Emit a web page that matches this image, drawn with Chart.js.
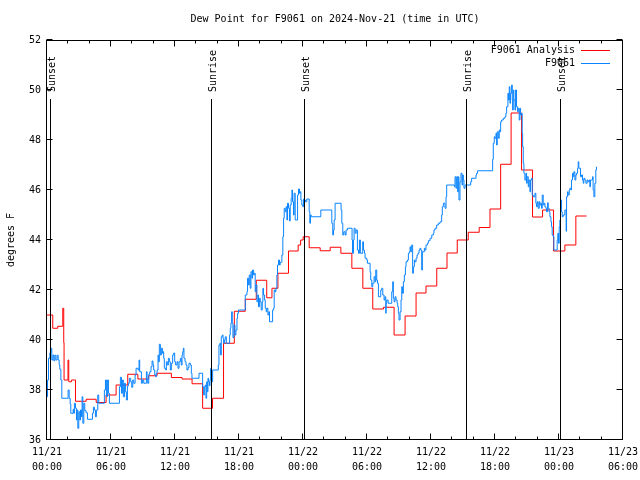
<!DOCTYPE html>
<html>
<head>
<meta charset="utf-8">
<title>Dew Point for F9061</title>
<script src="https://cdn.jsdelivr.net/npm/chart.js@4.4.1/dist/chart.umd.min.js"></script>
<style>
  html, body { margin: 0; padding: 0; background: #fff; }
</style>
</head>
<body>
<canvas id="dewChart" width="640" height="480"></canvas>
<script>
// ——— Dew point, station F9061, 2024-11-21 00:00 UTC onwards (x = hours since start) ———
const TITLE = "Dew Point for F9061 on 2024-Nov-21 (time in UTC)";
const Y_LABEL = "degrees F";

const X_TICK_DAY = ["11/21", "11/21", "11/21", "11/21", "11/22", "11/22", "11/22", "11/22", "11/23", "11/23"];
const X_TICK_TIME = ["00:00", "06:00", "12:00", "18:00", "00:00", "06:00", "12:00", "18:00", "00:00", "06:00"];

// sun events: hour of the line, label
const EVENT_HOURS = [0.39, 15.47, 24.23, 39.42, 48.2];
const EVENT_NAMES = ["Sunset", "Sunrise", "Sunset", "Sunrise", "Sunset"];

// hourly analysis, [hour, °F] (value holds until the next step)
const F9061_ANALYSIS = [
  [0, 41.0], [0.54, 40.47], [1.01, 40.55], [1.48, 41.27], [1.57, 39.9], [1.6, 38.4], [1.97, 39.2], [2.04, 38.33],
  [2.29, 38.4], [2.67, 37.55], [3.67, 37.63], [4.61, 37.5], [5.54, 37.8], [6.48, 38.2], [7.57, 38.63], [8.52, 38.44],
  [9.53, 38.57], [10.32, 38.67], [11.66, 38.5], [12.66, 38.44], [13.6, 38.25], [14.59, 37.27], [15.52, 37.67],
  [16.55, 39.87], [17.56, 41.15], [18.59, 41.63], [19.62, 42.39], [20.6, 41.69], [21.09, 42.07], [21.65, 42.67],
  [22.64, 43.56], [23.55, 43.8], [23.78, 44.0], [24.02, 44.13], [24.58, 43.69], [25.61, 43.57], [26.55, 43.71],
  [27.55, 43.47], [28.58, 42.87], [29.61, 42.07], [30.54, 41.24], [31.54, 41.31], [32.54, 40.2], [33.57, 40.96],
  [34.6, 41.88], [35.53, 42.16], [36.54, 42.87], [37.5, 43.48], [38.46, 44.0], [39.49, 44.31], [40.52, 44.5],
  [41.53, 45.24], [42.53, 47.03], [43.51, 49.08], [44.49, 46.8], [45.52, 44.92], [46.46, 45.2], [47.49, 43.56],
  [48.55, 43.8], [49.58, 44.96], [50.58, 44.96]
];

// station observations, [hour, °F]
const F9061_OBS = [
  [0.01, 37.73], [0.05, 38.4], [0.14, 39.27], [0.27, 39.49], [0.36, 39.67], [0.45, 39.2], [0.55, 39.4], [0.64, 39.17],
  [0.73, 39.39], [0.83, 39.2], [0.95, 39.39], [1.05, 39.2], [1.14, 39.0], [1.2, 38.83], [1.3, 38.4], [1.39, 37.67],
  [1.98, 38.0], [2.08, 37.67], [2.17, 37.44], [2.23, 37.07], [2.45, 37.23], [2.51, 37.07], [2.57, 37.47], [2.67, 37.27],
  [2.76, 36.8], [2.82, 37.2], [2.89, 36.47], [2.98, 37.13], [3.07, 36.8], [3.14, 37.2], [3.23, 36.93], [3.29, 37.73],
  [3.36, 36.67], [3.45, 37.47], [3.54, 37.17], [3.67, 37.09], [3.79, 36.83], [4.26, 37.07], [4.35, 37.31], [4.45, 37.2],
  [4.54, 36.93], [4.63, 37.2], [4.76, 37.8], [4.85, 37.47], [5.38, 38.0], [5.48, 38.4], [5.57, 37.73], [5.66, 38.4],
  [5.76, 37.87], [5.85, 37.47], [6.79, 38.13], [6.88, 38.51], [6.98, 37.87], [7.07, 38.4], [7.16, 37.73], [7.26, 38.27],
  [7.35, 37.93], [7.44, 37.6], [7.54, 38.16], [7.63, 38.27], [7.72, 38.47], [7.85, 38.33], [7.94, 38.11], [8.04, 38.4],
  [8.13, 38.27], [8.26, 38.6], [8.35, 38.87], [8.54, 38.8], [8.63, 39.2], [8.69, 38.73],
  [8.85, 38.27], [8.94, 38.4], [9.07, 38.27], [9.32, 38.73], [9.38, 38.44], [9.44, 38.27], [9.54, 38.63], [9.63, 38.73],
  [9.75, 38.93], [9.85, 39.16], [9.94, 39.0], [10.0, 38.8], [10.1, 38.6], [10.19, 38.53], [10.25, 38.67], [10.32, 38.8],
  [10.41, 39.4], [10.47, 39.13], [10.53, 39.83], [10.63, 39.4], [10.72, 39.67], [10.82, 39.47], [10.88, 39.53],
  [10.94, 39.27], [11.0, 38.87], [11.13, 38.8], [11.19, 39.13], [11.28, 39.0], [11.38, 39.27], [11.47, 39.13],
  [11.56, 38.8], [11.66, 39.07], [11.78, 39.4], [11.88, 39.48], [11.97, 39.13], [12.06, 39.0], [12.19, 39.13],
  [12.28, 38.87], [12.38, 39.13], [12.5, 39.27], [12.59, 39.0], [12.66, 39.4], [12.72, 39.53], [12.78, 39.67],
  [12.84, 39.27], [12.94, 39.13], [13.03, 39.0], [13.12, 38.8], [13.22, 38.89], [13.31, 39.07], [13.44, 39.0],
  [13.53, 38.67], [13.59, 38.47], [14.25, 38.67], [14.59, 38.13], [14.69, 37.8], [14.75, 38.13], [14.84, 38.2],
  [14.9, 37.67], [14.97, 38.33], [15.03, 37.93], [15.09, 38.47], [15.15, 38.33], [15.22, 38.17], [15.28, 38.4],
  [15.34, 38.87], [15.43, 38.33], [15.53, 38.8], [16.06, 39.0], [16.12, 39.8], [16.21, 39.87], [16.28, 39.4],
  [16.34, 40.13], [16.43, 40.2], [16.5, 40.07], [16.56, 39.87], [16.65, 40.0], [16.71, 40.13], [16.81, 39.87],
  [17.12, 40.2], [17.18, 40.47], [17.24, 40.67], [17.31, 41.13], [17.37, 40.67], [17.43, 40.1], [17.53, 40.6],
  [17.62, 40.2], [17.71, 40.4], [17.81, 40.87], [17.87, 41.07], [17.96, 41.2],
  [18.59, 41.8], [18.74, 41.93], [18.8, 42.47], [18.9, 42.2], [18.96, 42.6], [19.05, 42.07], [19.12, 42.73],
  [19.21, 42.47], [19.27, 42.8], [19.37, 42.6], [19.43, 42.67], [19.52, 41.93], [19.58, 42.2], [19.68, 41.53],
  [19.77, 41.8], [19.83, 41.33], [19.93, 41.67], [19.99, 41.53], [20.08, 41.2], [20.18, 41.53], [20.24, 42.07],
  [20.3, 41.8], [20.4, 41.6], [20.46, 41.27], [20.55, 41.13], [20.61, 41.27], [20.71, 41.0], [20.8, 41.13],
  [20.86, 40.73], [21.15, 41.2], [21.24, 41.27], [21.3, 42.0], [21.39, 41.93], [21.46, 42.07], [21.55, 42.6],
  [21.61, 43.0], [21.71, 43.2], [21.8, 43.0], [21.86, 43.11], [22.02, 43.4], [22.11, 44.13], [22.18, 44.87],
  [22.24, 45.27], [22.33, 45.13], [22.42, 45.33], [22.49, 44.8], [22.55, 45.47], [22.64, 45.27], [22.74, 44.76],
  [22.8, 45.4], [22.89, 45.67], [22.96, 46.0], [23.02, 45.53], [23.11, 45.0], [23.17, 45.87], [23.27, 44.8],
  [23.49, 45.8], [23.58, 46.04], [23.67, 45.87], [23.74, 45.93], [23.8, 45.6], [23.89, 45.4], [23.99, 45.33],
  [24.05, 45.64], [24.14, 45.6], [24.23, 45.53], [24.36, 45.64], [24.58, 45.13], [24.64, 44.67], [24.7, 45.0],
  [24.77, 44.93], [25.67, 45.2],
  [26.7, 44.67], [26.79, 44.2], [26.86, 44.4], [26.92, 44.8], [27.01, 45.47], [27.57, 45.2], [27.64, 44.67],
  [27.73, 44.2], [27.82, 44.33], [27.95, 44.2], [28.04, 44.4], [28.17, 44.47], [28.6, 44.0], [28.64, 43.47],
  [28.73, 44.0], [28.79, 44.47], [28.89, 44.27], [28.98, 44.4], [29.1, 43.6], [29.2, 43.47], [29.29, 44.0],
  [29.38, 43.47], [29.6, 43.93], [29.67, 43.6], [29.76, 43.47], [29.82, 43.27], [29.98, 43.2], [30.04, 43.07],
  [30.29, 42.73], [30.35, 42.4], [30.45, 42.13], [30.54, 42.27], [30.66, 42.53], [30.76, 42.33], [30.82, 42.8],
  [30.91, 42.4], [30.98, 42.27], [31.07, 41.73], [31.29, 42.0], [31.38, 42.07], [31.48, 41.8], [31.6, 41.6],
  [31.69, 41.73], [31.76, 41.07], [31.79, 41.47], [31.85, 41.6], [31.98, 41.47], [32.32, 41.93], [32.41, 42.33],
  [32.47, 41.67], [32.54, 41.53], [32.63, 41.73], [32.72, 41.6], [32.82, 41.47], [32.88, 41.33], [32.94, 41.07],
  [33.0, 40.8], [33.1, 41.13], [33.19, 41.6], [33.26, 42.13], [33.32, 41.87], [33.41, 42.33], [33.5, 42.6],
  [33.6, 42.93], [33.66, 43.13], [33.79, 43.2], [33.88, 43.47], [33.97, 43.53], [34.04, 43.73], [34.1, 43.53],
  [34.19, 43.8], [34.28, 42.67], [34.35, 42.93], [34.44, 43.2], [34.5, 43.13], [34.6, 43.27], [34.69, 43.4],
  [34.78, 43.47], [34.88, 43.6], [34.97, 43.67],
  [35.04, 43.6], [35.13, 42.8], [35.19, 43.53], [35.38, 43.67], [35.44, 43.6], [35.53, 43.8], [35.66, 43.87],
  [35.75, 43.97], [35.91, 44.07], [36.07, 44.2], [36.22, 44.27], [36.28, 44.4], [36.38, 44.47], [36.53, 44.6],
  [36.69, 44.67], [36.85, 44.73], [37.0, 45.0], [37.06, 45.33], [37.16, 45.47], [37.31, 45.27], [37.41, 45.73],
  [37.47, 46.2], [38.19, 46.13], [38.25, 46.53], [38.34, 46.07], [38.41, 46.53], [38.5, 45.93], [38.56, 46.53],
  [38.62, 45.6], [38.72, 46.33], [38.81, 46.67], [38.91, 46.2], [38.97, 46.6], [39.03, 46.4], [39.09, 46.07],
  [39.19, 46.2], [39.72, 46.33], [39.81, 46.47], [40.22, 46.6], [40.28, 46.67], [40.37, 46.77], [41.78, 47.23],
  [41.84, 47.87], [41.93, 48.13], [42.0, 48.07], [42.09, 48.27], [42.15, 47.8], [42.21, 48.33], [42.31, 48.07],
  [42.4, 48.4], [42.46, 48.33], [42.53, 48.73], [42.62, 48.8], [42.78, 48.87], [42.93, 48.93], [43.02, 49.07],
  [43.09, 49.33],
  [43.21, 49.87], [43.27, 49.6], [43.34, 50.13], [43.4, 49.47], [43.46, 49.87], [43.56, 50.2], [43.62, 49.6],
  [43.65, 49.2], [43.71, 50.0], [43.77, 49.6], [43.87, 49.2], [43.93, 50.0], [44.02, 49.33], [44.12, 49.13],
  [44.18, 49.27], [44.27, 48.8], [44.34, 49.27], [44.4, 49.0], [44.49, 49.07], [44.55, 48.27], [44.59, 47.73],
  [44.65, 47.07], [44.71, 46.67], [44.8, 46.4], [44.9, 46.67], [44.96, 46.27], [45.02, 46.53], [45.12, 46.13],
  [45.18, 46.4], [45.27, 45.93], [45.33, 46.4], [45.43, 46.47], [45.49, 45.8], [45.58, 45.73], [45.74, 45.87],
  [45.83, 45.47], [45.9, 45.33], [45.96, 45.53], [46.05, 45.27], [46.15, 45.53], [46.21, 45.4], [46.3, 45.47],
  [46.36, 45.27], [46.43, 45.8], [46.52, 45.4], [46.61, 45.47], [46.68, 45.33], [46.77, 45.27], [46.83, 45.13],
  [46.93, 45.49], [46.99, 45.27], [47.08, 45.13], [47.15, 44.93], [47.24, 44.73], [47.3, 44.53], [47.36, 44.2],
  [47.46, 44.13], [47.52, 43.6], [47.83, 44.0], [47.89, 44.27], [47.96, 43.87], [48.02, 44.53], [48.08, 44.8],
  [48.14, 45.6], [48.24, 45.13], [48.3, 44.93], [48.39, 45.0], [48.55, 45.2], [48.67, 44.35], [48.71, 45.73],
  [48.8, 45.93], [48.86, 45.8], [48.96, 46.0], [49.02, 46.07], [49.11, 46.0], [49.17, 46.4], [49.27, 46.67],
  [49.33, 46.53], [49.39, 46.73], [49.49, 46.4], [49.58, 46.6], [49.64, 46.67], [49.74, 46.87], [49.8, 47.13],
  [49.86, 46.87], [50.02, 46.53], [50.11, 46.6], [50.2, 46.4], [50.27, 46.27], [50.33, 46.47], [50.42, 46.4],
  [50.52, 46.27], [50.64, 46.4], [50.73, 46.33], [50.83, 46.4], [50.89, 46.13], [50.95, 46.4], [51.14, 46.53],
  [51.2, 46.0], [51.27, 45.73], [51.36, 46.27], [51.45, 46.8], [51.51, 46.93]
];

const FONT_FAMILY = '"DejaVu Sans Mono", "Liberation Mono", monospace';
const RED = "#ff0000";
const BLUE = "#0a84ff";
const MINOR_STEP_H = 2;

Chart.defaults.font.family = FONT_FAMILY;
Chart.defaults.font.size = 10;
Chart.defaults.color = "#000";

const toPoints = (rows) => rows.map(([x, y]) => ({ x, y }));

// gnuplot-ish frame, inward ticks, sun lines, legend and title
const gnuplotDecor = {
  id: "gnuplotDecor",
  beforeDraw(chart) {
    const { ctx, width, height } = chart;
    ctx.save();
    ctx.fillStyle = "#fff";
    ctx.fillRect(0, 0, width, height);
    ctx.restore();
  },
  afterDatasetsDraw(chart) {
    const { ctx, chartArea: a, scales: { x, y } } = chart;
    const L = Math.round(a.left) - 0.5;
    const R = Math.round(a.right) - 0.5;
    const T = Math.round(a.top) + 0.5;
    const B = Math.round(a.bottom) - 0.5;

    ctx.save();
    ctx.strokeStyle = "#000";
    ctx.lineWidth = 1;

    // sun event lines + labels
    ctx.fillStyle = "#000";
    ctx.font = "10px " + FONT_FAMILY;
    EVENT_HOURS.forEach((h, i) => {
      const px = Math.round(x.getPixelForValue(h)) - 0.5;
      ctx.beginPath();
      ctx.moveTo(px, 99);
      ctx.lineTo(px, B);
      ctx.stroke();
      ctx.save();
      ctx.translate(px + 1.5, 92);
      ctx.rotate(-Math.PI / 2);
      ctx.textAlign = "left";
      ctx.textBaseline = "middle";
      ctx.fillText(EVENT_NAMES[i], 0, 0);
      ctx.restore();
    });

    // frame
    ctx.strokeRect(L, T, R - L, B - T);

    // ticks (inward, mirrored)
    const majors = new Set(x.ticks.map((t) => t.value));
    ctx.beginPath();
    for (let h = x.min; h <= x.max; h += MINOR_STEP_H) {
      const px = Math.round(x.getPixelForValue(h)) - 0.5;
      const len = majors.has(h) ? 6 : 3;
      ctx.moveTo(px, B); ctx.lineTo(px, B - len);
      ctx.moveTo(px, T); ctx.lineTo(px, T + len);
    }
    y.ticks.forEach((t) => {
      const py = Math.round(y.getPixelForValue(t.value)) - 0.5;
      ctx.moveTo(L, py); ctx.lineTo(L + 6, py);
      ctx.moveTo(R, py); ctx.lineTo(R - 6, py);
    });
    ctx.stroke();

    // legend (text right-aligned, sample line after it)
    const rows = [
      { label: "F9061 Analysis", color: RED, y: 50 },
      { label: "F9061", color: BLUE, y: 63 }
    ];
    ctx.textAlign = "right";
    ctx.textBaseline = "middle";
    rows.forEach((r) => {
      ctx.fillStyle = "#000";
      ctx.fillText(r.label, 575, r.y);
      ctx.strokeStyle = r.color;
      ctx.beginPath();
      ctx.moveTo(581, r.y + 0.5);
      ctx.lineTo(610, r.y + 0.5);
      ctx.stroke();
    });

    // title
    ctx.fillStyle = "#000";
    ctx.textAlign = "center";
    ctx.fillText(TITLE, (a.left + a.right) / 2, 19);
    ctx.restore();
  }
};

new Chart(document.getElementById("dewChart"), {
  type: "line",
  data: {
    datasets: [
      {
        label: "F9061 Analysis",
        data: toPoints(F9061_ANALYSIS),
        borderColor: RED,
        borderWidth: 1,
        stepped: true,
        pointRadius: 0,
        order: 2
      },
      {
        label: "F9061",
        data: toPoints(F9061_OBS),
        borderColor: BLUE,
        borderWidth: 1,
        stepped: true,
        pointRadius: 0,
        order: 1
      }
    ]
  },
  options: {
    responsive: false,
    animation: false,
    layout: { padding: { top: 40, right: 17, bottom: 0, left: 0 } },
    plugins: {
      legend: { display: false },
      title: { display: false },
      tooltip: { enabled: false }
    },
    scales: {
      x: {
        type: "linear",
        min: 0,
        max: 54,
        grid: { display: false, drawTicks: false },
        border: { display: false },
        ticks: {
          stepSize: 6,
          autoSkip: false,
          maxRotation: 0,
          padding: 5,
          font: { size: 10, lineHeight: 1.5 },
          callback: (v, i) => [X_TICK_DAY[i], X_TICK_TIME[i]]
        },
        afterFit: (s) => {
          s.height = 40;
          s.paddingLeft = 0;
          s.paddingRight = 0;
        }
      },
      y: {
        min: 36,
        max: 52,
        grid: { display: false, drawTicks: false },
        border: { display: false },
        ticks: { stepSize: 2, padding: 6 },
        title: { display: true, text: Y_LABEL, padding: { top: 5, bottom: 0 } },
        afterFit: (s) => { s.width = 47; }
      }
    }
  },
  plugins: [gnuplotDecor]
});
</script>
</body>
</html>
